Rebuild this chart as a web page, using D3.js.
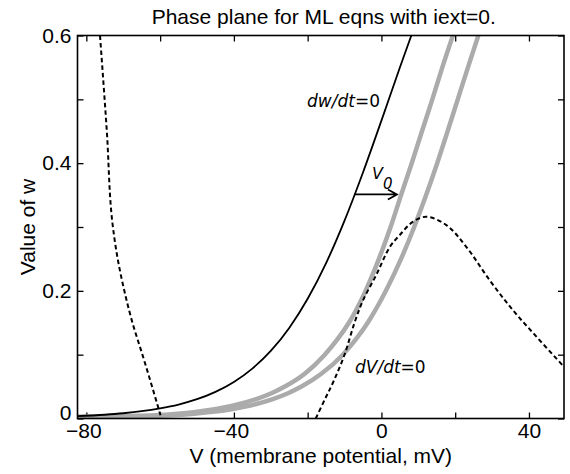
<!DOCTYPE html>
<html>
<head>
<meta charset="utf-8">
<script src="https://cdnjs.cloudflare.com/ajax/libs/d3/7.8.5/d3.min.js"></script>
<style>
  body { margin: 0; background: #fff; }
  svg { font-family: "Liberation Sans", Arial, sans-serif; }
  .axis text { font-size: 21px; fill: #000; font-family: "Liberation Sans", Arial, sans-serif; }
  .axis line { stroke: #000; stroke-width: 1.3; }
  .note { font-family: "DejaVu Sans", sans-serif; font-size: 17px; }
</style>
</head>
<body>
<svg class="chart"></svg>
<script>
// x ticks (mV) and y ticks (w)
const vTicks = [-80, -60, -40, -20, 0, 20, 40];
const vLabels = [-80, -40, 0, 40];
const wTicks = [0, 0.1, 0.2, 0.3, 0.4, 0.5, 0.6];
const wLabels = [0, 0.2, 0.4, 0.6];

// dw/dt = 0 nullcline
const wNullV = [-82.4, -75, -70, -65, -60, -55, -50, -45, -40, -35, -30, -25, -20, -15, -10, -5, 0, 5, 8.1];
const wNullW = [0.0036, 0.0059, 0.0082, 0.0114, 0.0159, 0.0219, 0.0302, 0.0417, 0.0573, 0.0782, 0.1058, 0.1419, 0.1876, 0.2435, 0.310, 0.3854, 0.4667, 0.5498, 0.6];

// the two grey curves, shifted right of the w nullcline
const grey1V = [-82.4, -75, -68.5, -61.4, -55.28, -50.93, -44.77, -40.38, -34.14, -29.67, -26.17, -20.8, -15.36, -11.79, -8.82, -4.29, -0.68, 2.49, 5.32, 8.22, 10.99, 13.8, 16.51, 19.38];
const grey1W = [0.0028, 0.0032, 0.004, 0.005, 0.0075, 0.01, 0.015, 0.02, 0.03, 0.04, 0.05, 0.07, 0.1, 0.125, 0.15, 0.2, 0.25, 0.3, 0.35, 0.4, 0.45, 0.5, 0.55, 0.6];
const grey2V = [-82.4, -70, -63, -56.9, -50.78, -46.43, -40.27, -35.88, -29.64, -25.17, -21.67, -16.3, -10.46, -6.79, -3.72, 1.21, 5.32, 8.89, 12.12, 15.12, 17.94, 20.7, 23.46, 26.28];
const grey2W = [0.0025, 0.003, 0.0038, 0.005, 0.0075, 0.01, 0.015, 0.02, 0.03, 0.04, 0.05, 0.07, 0.1, 0.125, 0.15, 0.2, 0.25, 0.3, 0.35, 0.4, 0.45, 0.5, 0.55, 0.6];

// dV/dt = 0 nullcline, left and right branches
const vNullLeftV = [-76.3, -74.45, -72.8, -71.5, -69.7, -67.5, -64.8, -62.7, -60.4, -59.9];
const vNullLeftW = [0.6, 0.45, 0.3, 0.25, 0.2, 0.15, 0.1, 0.06, 0.015, 0.005];
const vNullRightV = [-17.8, -15, -13.15, -10, -7.3, -5, -1.4, 2.2, 4.9, 8.5, 12.1, 17.6, 23, 29.3, 35.6, 41.9, 49.5];
const vNullRightW = [0, 0.034, 0.056, 0.10, 0.15, 0.185, 0.225, 0.268, 0.287, 0.308, 0.316, 0.303, 0.269, 0.217, 0.17, 0.129, 0.081];

// arrow for V0
const arrowV = [-7.22, 4.2];
const arrowW = 0.351;

const width = 570, height = 474;
const margin = {top: 35.5, right: 6, bottom: 55.5, left: 77.5};
const plotW = width - margin.left - margin.right;
const plotH = height - margin.top - margin.bottom;

const svg = d3.select(".chart")
    .attr("width", width)
    .attr("height", height);

const chart = svg.append("g")
    .attr("transform", `translate(${margin.left},${margin.top})`);

const x = d3.scaleLinear().domain([-82.4, 49.5]).range([0, plotW]);
const y = d3.scaleLinear().domain([0, 0.6]).range([plotH, 0]);

svg.append("defs").append("clipPath")
    .attr("id", "plot-clip")
    .append("rect")
    .attr("width", plotW)
    .attr("height", plotH);

const fmt = (d) => d < 0 ? "\u2212" + Math.abs(d) : String(d);

// axes with inward ticks, on all four sides
chart.append("g")
    .attr("class", "axis x-bottom")
    .attr("transform", `translate(0,${plotH})`)
    .call(d3.axisBottom(x).tickValues(vTicks).tickSizeInner(-6).tickSizeOuter(0).tickPadding(5)
        .tickFormat((d) => vLabels.includes(d) ? fmt(d) : ""));

// minus-signed labels sit a little left of their tick
chart.selectAll(".x-bottom .tick text")
    .attr("dx", (d) => d < 0 ? -3 : 0);

chart.append("g")
    .attr("class", "axis")
    .call(d3.axisTop(x).tickValues(vTicks).tickSizeInner(-6).tickSizeOuter(0).tickFormat(""));

chart.append("g")
    .attr("class", "axis y-left")
    .call(d3.axisLeft(y).tickValues(wTicks).tickSizeInner(-6).tickSizeOuter(0).tickPadding(6)
        .tickFormat((d) => wLabels.includes(d) ? String(+d.toFixed(1)) : ""));

// lift the "0" label so it clears the x labels
chart.selectAll(".y-left .tick text")
    .filter((d) => d === 0)
    .attr("dy", "0.05em");

chart.append("g")
    .attr("class", "axis")
    .attr("transform", `translate(${plotW},0)`)
    .call(d3.axisRight(y).tickValues(wTicks).tickSizeInner(-6).tickSizeOuter(0).tickFormat(""));

chart.selectAll(".axis .domain").remove();

const line = d3.line()
    .x((d) => x(d[0]))
    .y((d) => y(d[1]))
    .curve(d3.curveMonotoneX);

const curves = chart.append("g").attr("clip-path", "url(#plot-clip)");

curves.append("path")
    .datum(d3.zip(grey1V, grey1W))
    .attr("d", line)
    .style("fill", "none")
    .style("stroke", "#ababab")
    .style("stroke-width", 4.5);

curves.append("path")
    .datum(d3.zip(grey2V, grey2W))
    .attr("d", line)
    .style("fill", "none")
    .style("stroke", "#ababab")
    .style("stroke-width", 4.5);

curves.append("path")
    .datum(d3.zip(wNullV, wNullW))
    .attr("d", line)
    .style("fill", "none")
    .style("stroke", "#000")
    .style("stroke-width", 1.8);

curves.append("path")
    .datum(d3.zip(vNullLeftV, vNullLeftW))
    .attr("d", d3.line().x((d) => x(d[0])).y((d) => y(d[1])).curve(d3.curveMonotoneY))
    .style("fill", "none")
    .style("stroke", "#000")
    .style("stroke-width", 2)
    .style("stroke-dasharray", "4.5,3");

curves.append("path")
    .datum(d3.zip(vNullRightV, vNullRightW))
    .attr("d", d3.line().x((d) => x(d[0])).y((d) => y(d[1])).curve(d3.curveCatmullRom))
    .style("fill", "none")
    .style("stroke", "#000")
    .style("stroke-width", 2)
    .style("stroke-dasharray", "4.5,3");

// V0 arrow
const ax0 = x(arrowV[0]), ax1 = x(arrowV[1]), ay = y(arrowW);
chart.append("path")
    .attr("d", `M${ax0},${ay}H${ax1}M${ax1 - 9},${ay - 5}L${ax1},${ay}L${ax1 - 9},${ay + 5}`)
    .style("fill", "none")
    .style("stroke", "#000")
    .style("stroke-width", 1.8);

// box
chart.append("rect")
    .attr("width", plotW)
    .attr("height", plotH)
    .style("fill", "none")
    .style("stroke", "#000")
    .style("stroke-width", 1.6);

// labels
svg.append("text")
    .attr("x", margin.left + plotW / 2 + 3)
    .attr("y", 24)
    .attr("text-anchor", "middle")
    .style("font-size", "21px")
    .text("Phase plane for ML eqns with iext=0.");

svg.append("text")
    .attr("x", margin.left + plotW / 2)
    .attr("y", 463)
    .attr("text-anchor", "middle")
    .style("font-size", "21px")
    .text("V (membrane potential, mV)");

svg.append("text")
    .attr("transform", `translate(35,${margin.top + plotH / 2}) rotate(-90)`)
    .attr("text-anchor", "middle")
    .style("font-size", "21px")
    .text("Value of w");

const wLabel = svg.append("text")
    .attr("class", "note")
    .attr("x", 307)
    .attr("y", 107);
wLabel.append("tspan").style("font-style", "italic").text("dw/dt");
wLabel.append("tspan").text("=0");

const vLabel = svg.append("text")
    .attr("class", "note")
    .attr("x", 355)
    .attr("y", 373);
vLabel.append("tspan").style("font-style", "italic").text("dV/dt");
vLabel.append("tspan").text("=0");

const v0 = svg.append("text")
    .attr("class", "note")
    .attr("x", 372)
    .attr("y", 179)
    .style("font-size", "16px")
    .style("font-style", "italic");
v0.append("tspan").text("V");
v0.append("tspan").attr("dy", 10).style("font-size", "15px").text("0");
</script>
</body>
</html>
